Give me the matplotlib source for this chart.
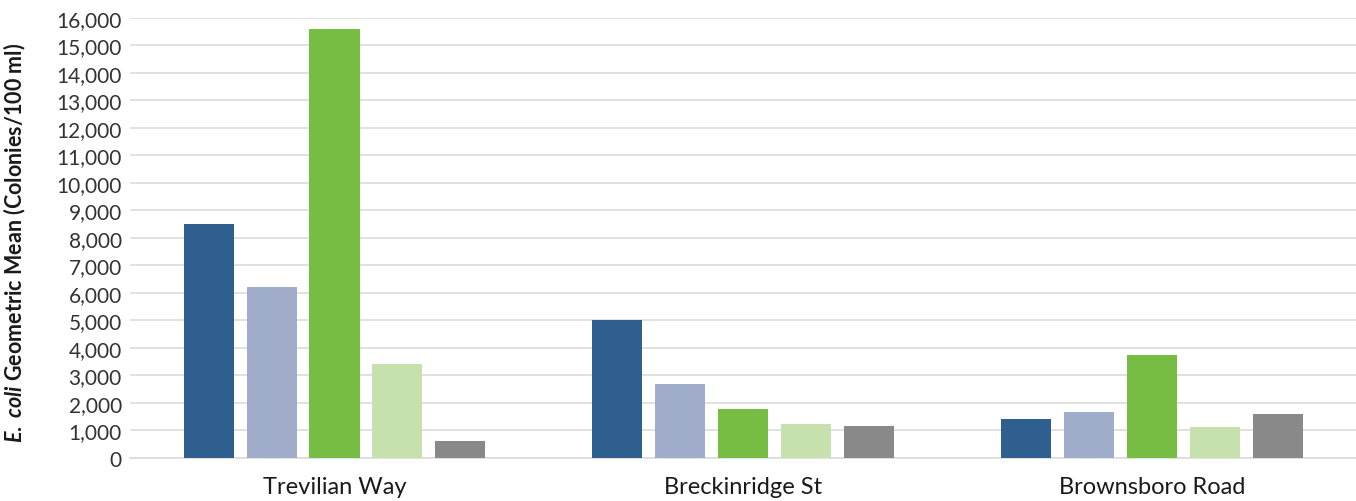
import matplotlib.pyplot as plt
import numpy as np

plt.rcParams['font.family'] = ['Lato', 'DejaVu Sans']
plt.rcParams['mathtext.fontset'] = 'custom'
plt.rcParams['mathtext.it'] = 'Lato:bold:italic'
plt.rcParams['mathtext.rm'] = 'Lato:bold'

sites = ['Trevilian Way', 'Breckinridge St', 'Brownsboro Road']
# five series per site, left to right
s1 = [8500, 5000, 1420]
s2 = [6200, 2690, 1670]
s3 = [15600, 1780, 3750]
s4 = [3400, 1240, 1130]
s5 = [600, 1170, 1600]
series = [s1, s2, s3, s4, s5]
colors = ['#2E5F8F', '#A0ADCA', '#77BC43', '#C6E0AE', '#898989']

fig = plt.figure(figsize=(13.56, 5.02), dpi=100)
ax = fig.add_axes([0.096, 0.0857, 0.904, 0.8765])

x = np.arange(len(sites))
step = 0.154
width = 0.1225
for i, (vals, c) in enumerate(zip(series, colors)):
	ax.bar(x + (i - 2)*step, vals, width=width, color=c, zorder=3)

ax.set_xlim(-0.5, 2.5)
ax.set_ylim(0, 16000)
ax.set_yticks(np.arange(0, 16001, 1000))
ax.set_yticklabels(['{:,}'.format(v) for v in range(0, 16001, 1000)])
ax.set_xticks(x)
ax.set_xticklabels(sites, fontsize=17, color='#1a1a1a')
ax.tick_params(axis='y', length=0, labelsize=15, colors='#333333', pad=6)
ax.tick_params(axis='x', length=0, pad=13)

ax.yaxis.grid(True, color='#DCDCDC', lw=1.2, zorder=0)
for sp in ['top', 'right', 'left']:
	ax.spines[sp].set_visible(False)
ax.spines['bottom'].set_color('#DCDCDC')
ax.spines['bottom'].set_linewidth(1.2)

ax.set_ylabel(r'$E.\ coli$ Geometric Mean (Colonies/100 ml)', fontsize=15.5,
	fontweight='bold', color='#1a1a1a')
ax.yaxis.set_label_coords(-0.083, 0.49)

fig.savefig('out.png', dpi=100, facecolor='white')
